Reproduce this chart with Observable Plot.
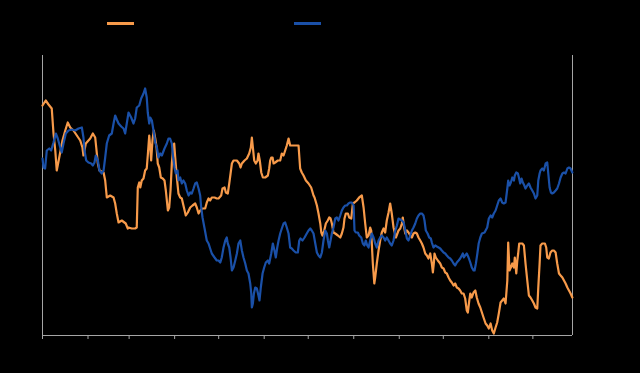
<!DOCTYPE html>
<html>
<head>
<meta charset="utf-8">
<script src="https://cdn.jsdelivr.net/npm/d3@7"></script>
<script src="https://cdn.jsdelivr.net/npm/@observablehq/plot@0.6"></script>
<style>
  html, body { margin: 0; padding: 0; background: #000; }
  #wrap { width: 640px; height: 373px; position: relative; overflow: hidden; font-family: "Liberation Sans", Arial, sans-serif; }
  #legend { position: relative; height: 45px; }
  .sw { position: absolute; top: 22px; width: 27px; height: 3px; }
</style>
</head>
<body>
<div id="wrap">
  <div id="legend"></div>
  <div id="chart"></div>
</div>
<script>
// Day offsets (from Jan 1) and values
const orangeDays = [0.0,2.2,4.1,6.3,7.5,8.7,9.7,11.4,13.6,15.5,17.2,18.9,21.1,23.4,25.7,27.2,27.9,29.5,32.5,34.3,35.9,36.6,37.7,38.8,41.6,42.7,43.8,46.1,48.4,49.5,50.6,51.8,54.0,56.7,58.1,58.6,60.8,63.1,64.2,64.9,65.9,66.6,67.6,68.8,69.9,71.0,71.7,72.7,73.4,74.0,74.9,75.8,76.8,77.7,78.5,79.5,80.6,81.9,83.1,84.0,85.4,86.3,87.2,88.1,89.0,89.7,90.4,91.5,92.6,93.8,94.9,96.0,97.6,99.0,100.6,102.2,104.0,105.1,106.3,107.4,109.0,110.8,111.9,113.1,114.2,115.3,117.2,118.7,119.9,121.7,122.6,124.0,124.9,126.2,127.2,128.1,129.0,130.1,132.4,134.0,134.9,135.8,137.6,139.2,140.8,141.9,142.6,143.3,144.2,145.3,146.5,147.1,148.0,149.0,150.1,151.7,153.5,154.4,155.1,155.8,156.7,157.4,158.5,160.3,161.9,163.0,164.2,165.3,166.4,167.6,168.7,169.8,172.1,174.4,175.5,176.6,177.8,179.4,181.2,183.0,184.6,185.3,186.9,188.0,189.2,189.9,190.7,191.9,193.0,194.3,195.3,196.2,197.1,198.2,199.4,201.2,202.8,203.9,205.0,205.7,206.6,208.0,208.9,210.3,211.4,212.5,214.1,215.7,217.5,218.7,219.8,220.9,222.1,223.2,223.9,224.3,225.0,226.0,226.6,227.7,228.9,230.0,231.1,232.3,233.4,234.5,235.7,236.8,237.9,239.1,240.7,242.5,243.7,244.8,245.4,246.1,247.1,248.2,249.3,250.5,251.6,252.7,253.9,255.0,256.1,257.3,258.4,259.5,260.7,261.8,262.9,264.1,265.2,265.9,266.6,267.0,267.9,269.3,270.9,272.0,273.2,274.3,275.4,276.6,277.7,278.8,280.0,281.1,282.2,283.4,284.5,285.6,286.8,287.9,289.0,289.7,290.7,291.4,292.4,293.6,294.8,295.8,297.0,298.2,299.3,300.4,301.8,302.9,304.0,305.2,306.3,307.4,308.6,309.7,310.8,312.0,313.1,314.2,315.4,316.6,317.2,318.1,319.0,320.0,321.1,321.7,322.7,323.4,324.0,324.7,325.6,326.8,327.9,329.0,330.2,331.3,332.4,333.6,334.7,335.8,337.0,337.7,338.6,339.2,340.4,342.2,343.1,343.8,344.9,346.0,347.2,348.3,349.5,350.6,351.8,352.9,354.1,355.2,356.3,357.5,358.6,359.7,360.9];
const orangeValues = [230,235,231,227,202,185,165,178,195,205,213,208,205,200,195,188,180,192,197,202,198,188,172,165,163,155,138,140,138,132,122,113,115,112,107,108,107,107,108,148,153,148,155,157,165,167,180,200,188,175,195,205,197,188,172,168,158,157,155,145,125,128,145,172,188,192,178,158,142,138,137,130,120,123,128,130,132,128,122,125,127,127,133,137,135,138,138,137,137,140,147,148,143,142,152,162,172,175,175,172,168,172,175,177,182,188,198,188,175,172,175,182,175,163,158,158,160,167,175,178,178,172,173,175,175,182,180,185,190,197,190,190,190,190,167,163,160,155,152,148,140,138,130,122,112,103,100,105,112,115,118,117,112,103,102,100,98,102,108,117,122,122,118,117,132,133,135,138,140,128,112,98,100,108,105,92,72,52,58,72,85,95,103,107,103,115,123,132,122,108,98,105,107,112,118,110,102,105,103,100,98,102,103,102,98,95,92,88,82,80,77,82,72,63,73,82,78,75,72,68,67,63,62,58,55,53,50,52,48,47,45,42,42,37,25,23,35,42,38,43,45,38,32,28,23,18,12,10,7,12,5,2,8,13,22,33,35,37,32,55,93,65,68,72,68,78,62,75,82,92,92,92,90,72,55,40,38,35,32,28,27,48,72,90,92,92,88,78,77,83,85,85,83,72,62,60,58,55,52,48,45,42,38];

const blueDays = [0.0,0.7,1.8,2.9,4.6,5.9,7.5,9.1,10.4,12.1,13.1,14.3,15.9,17.7,20.0,22.3,24.5,26.8,27.9,28.6,29.8,31.3,33.2,34.3,35.4,36.3,37.7,38.8,40.4,41.6,42.7,43.8,45.4,47.2,48.4,49.5,50.6,51.8,53.6,55.2,56.3,57.4,58.6,60.4,62.0,63.1,64.2,65.9,67.2,68.8,69.9,71.0,71.7,72.7,73.4,74.5,75.6,76.8,77.9,79.0,80.2,81.3,83.1,84.7,85.8,86.9,88.1,89.0,89.9,90.8,92.0,92.6,93.8,94.9,96.0,97.2,98.3,99.5,100.6,101.7,102.9,104.0,105.1,106.3,107.4,108.1,109.0,110.4,111.9,113.1,114.2,115.3,117.2,118.7,119.9,121.1,122.1,123.3,124.5,125.5,126.2,127.2,128.1,129.0,130.1,131.3,132.4,133.5,134.7,135.8,136.9,138.1,139.2,140.3,141.5,142.2,142.6,143.3,144.0,144.9,146.0,147.1,147.8,148.7,149.9,151.0,152.1,153.5,154.4,155.8,156.9,158.0,158.9,159.9,160.8,161.9,163.0,164.2,165.3,166.4,167.6,168.7,169.8,171.0,172.5,173.9,174.9,175.7,177.1,178.5,180.0,181.2,182.4,183.4,184.6,185.8,186.9,188.0,189.2,190.3,191.4,192.6,193.7,194.4,195.3,196.2,197.1,198.2,199.4,200.5,201.6,202.8,203.9,205.0,206.2,207.3,208.4,209.6,210.7,211.9,212.5,213.4,214.8,215.7,217.1,218.2,219.3,220.2,221.2,222.1,223.2,224.3,225.5,226.6,227.7,228.9,230.0,231.1,232.3,233.4,234.5,235.7,236.8,237.9,239.1,240.3,241.4,242.5,244.8,246.0,247.1,248.2,249.3,250.5,251.6,252.7,253.9,255.0,256.1,257.3,258.4,259.5,260.2,261.1,262.3,263.4,264.5,265.2,266.3,267.5,268.6,269.8,270.9,272.0,273.2,274.3,275.4,276.6,277.7,278.8,280.0,281.1,282.2,283.4,284.5,285.6,286.3,287.0,287.9,289.0,290.2,291.4,292.4,293.6,294.3,295.2,296.2,297.1,298.2,299.3,301.1,301.8,302.9,304.0,305.2,306.3,307.4,308.6,309.7,310.8,312.0,313.1,314.2,315.4,316.6,317.2,318.1,319.0,320.0,321.1,321.7,322.7,323.8,324.5,325.4,326.3,327.2,328.2,329.0,330.2,331.3,332.4,333.6,334.7,335.8,337.0,337.7,338.6,339.2,340.4,341.5,342.7,343.8,344.5,345.4,346.3,347.2,348.3,349.5,350.6,351.8,352.9,354.1,355.2,356.3,357.5,358.6,359.7,360.9];
const blueValues = [177,168,167,185,187,185,193,202,197,188,183,192,202,205,206,205,207,208,198,185,175,173,172,170,173,180,175,165,162,165,178,192,200,202,212,220,216,212,209,207,202,212,223,218,212,217,228,230,237,242,247,238,223,212,218,215,205,193,188,178,182,180,187,192,197,197,192,178,168,162,165,155,158,152,155,152,145,140,143,142,147,152,153,147,140,128,118,107,95,92,87,82,78,75,75,73,78,88,95,98,92,88,78,65,68,75,82,92,95,85,78,72,65,62,52,42,28,32,42,48,47,40,35,48,62,68,73,75,72,82,92,85,78,88,95,102,107,112,113,108,102,88,87,85,83,83,95,97,95,98,102,105,107,105,102,92,83,80,78,83,95,105,102,95,88,95,102,108,117,118,115,120,125,128,130,130,132,133,133,130,105,103,103,100,98,92,90,95,90,88,95,102,98,92,88,95,98,100,98,95,98,95,92,90,95,105,110,117,115,113,105,97,95,100,105,108,112,117,120,122,122,120,115,105,102,98,97,93,88,90,89,88,87,85,83,82,80,78,77,75,72,70,73,75,77,80,82,78,80,82,78,73,68,65,65,72,82,92,98,102,103,105,108,117,120,118,122,125,130,135,137,133,132,133,147,155,150,153,158,155,160,163,162,158,152,157,153,150,147,150,152,148,145,142,137,140,155,162,165,167,165,172,173,162,148,143,142,143,145,147,152,158,162,163,162,167,168,167,163];

const seriesColors = ["#f79a4a", "#1a50a8"];
const yDomain = [0, 280];
const start = Date.UTC(2019, 0, 1);
const xDomainDays = [0, 361];

const toDate = d => new Date(start + d * 864e5);
const orange = orangeDays.map((d, i) => ({date: toDate(d), value: orangeValues[i]}));
const blue = blueDays.map((d, i) => ({date: toDate(d), value: blueValues[i]}));
const xDomain = xDomainDays.map(toDate);

// legend swatches
const legend = document.getElementById("legend");
[[107, seriesColors[0]], [294, seriesColors[1]]].forEach(([left, c]) => {
  const s = document.createElement("div");
  s.className = "sw";
  s.style.left = left + "px";
  s.style.background = c;
  legend.appendChild(s);
});

const axisGray = "#a5a5a5";
const chart = Plot.plot({
  width: 640,
  height: 328,
  marginTop: 10,
  marginBottom: 38,
  marginLeft: 42,
  marginRight: 68,
  style: {background: "transparent", color: "#000", fontFamily: "Liberation Sans, Arial, sans-serif", fontSize: "11px"},
  x: {type: "utc", domain: xDomain},
  y: {domain: yDomain, axis: null},
  marks: [
    Plot.axisX({ticks: d3.utcMonth.every(1), tickSize: 4, tickFormat: "%b", stroke: axisGray, fill: "#000"}),
    Plot.ruleX(xDomain, {stroke: axisGray, strokeWidth: 1}),
    Plot.ruleY([yDomain[0]], {stroke: axisGray, strokeWidth: 1}),
    Plot.line(orange, {x: "date", y: "value", stroke: seriesColors[0], strokeWidth: 2.2}),
    Plot.line(blue, {x: "date", y: "value", stroke: seriesColors[1], strokeWidth: 2.2})
  ]
});
document.getElementById("chart").appendChild(chart);
</script>
</body>
</html>
